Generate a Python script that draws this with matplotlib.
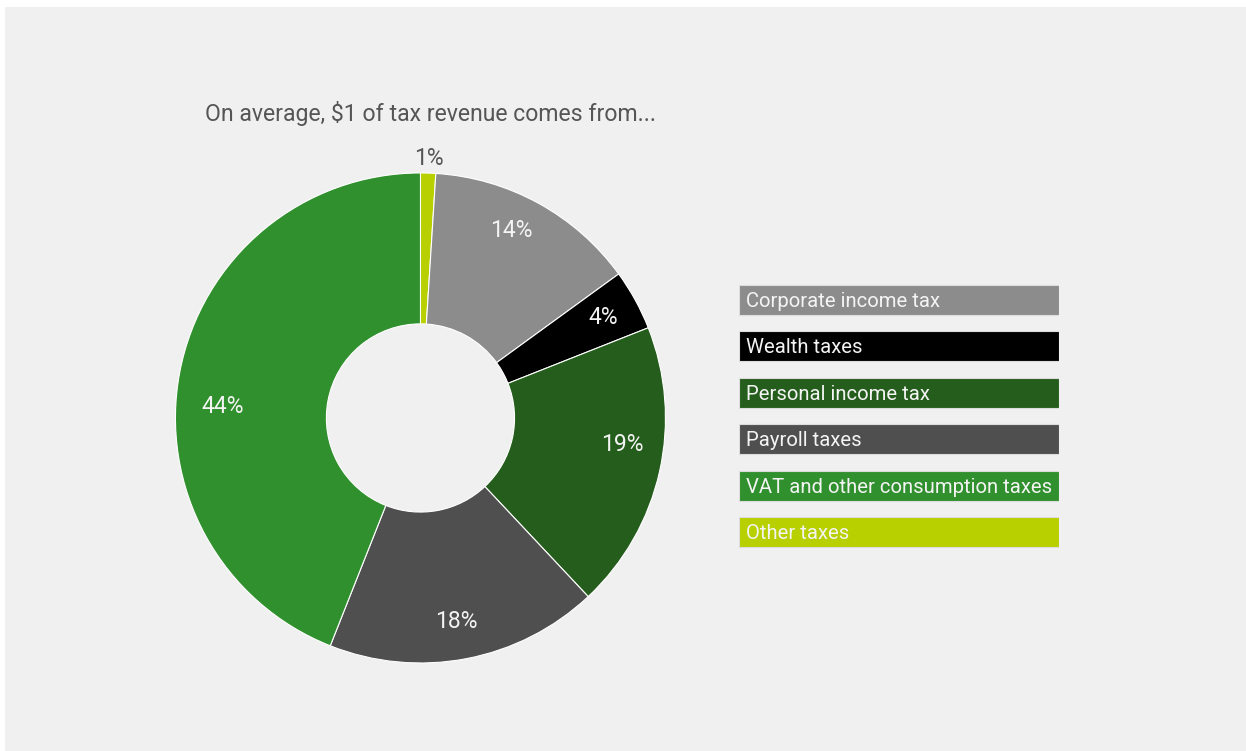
import numpy as np
import matplotlib.pyplot as plt
from matplotlib.patches import Rectangle

plt.rcParams['font.family'] = ['Roboto', 'DejaVu Sans']

# tax mix, clockwise from 12 o'clock
categories = ['Other taxes', 'Corporate income tax', 'Wealth taxes',
              'Personal income tax', 'Payroll taxes',
              'VAT and other consumption taxes']
shares = [1, 14, 4, 19, 18, 44]
colors = ['#b8cf00', '#8c8c8c', '#000000', '#255e1c', '#4f4f4f', '#31902e']

# legend order (top to bottom)
legend_order = ['Corporate income tax', 'Wealth taxes', 'Personal income tax',
                'Payroll taxes', 'VAT and other consumption taxes', 'Other taxes']

# label placement tweaks: angle nudge (deg, ccw) and radius
label_nudge = [0, 3, 0, 5, -0.8, 7.6]
label_r = [1.06, 0.85, 0.85, 0.83, 0.845, 0.81]

bg = '#f0f0f0'
fig = plt.figure(figsize=(12.46, 7.51), dpi=100, facecolor='white')
fig.patches.append(Rectangle((5 / 1246, 0), 1, 1 - 7 / 751,
                             transform=fig.transFigure, facecolor=bg,
                             edgecolor='none', zorder=-10))

ax = fig.add_axes([0.1408, 0.1172, 0.3933, 0.6525])
ax.set_facecolor('none')
wedges, texts = ax.pie(shares, colors=colors, startangle=90, counterclock=False,
                       radius=1, wedgeprops=dict(width=0.616, edgecolor='white',
                                                 linewidth=0.8))
ax.set_xlim(-1, 1)
ax.set_ylim(-1, 1)
ax.set_aspect('equal')
ax.axis('off')

# percentage labels
for w, v, dn, r in zip(wedges, shares, label_nudge, label_r):
    ang = np.deg2rad((w.theta1 + w.theta2) / 2 + dn)
    c = '#555555' if r > 1 else '#f4f4f4'
    ax.text(r * np.cos(ang), r * np.sin(ang), f'{v}%', ha='center',
            va='center', fontsize=16.5, color=c)

fig.text(205 / 1246, 1 - 114 / 751, 'On average, \\$1 of tax revenue comes from...',
         ha='left', va='center', fontsize=16.6, color='#555555')

# legend as labelled bars
lax = fig.add_axes([0.5931, 0.2607, 0.2568, 0.3707])
lax.set_facecolor('none')
col_of = dict(zip(categories, colors))
ypos = np.arange(len(legend_order))
lax.barh(ypos, [1] * len(legend_order), height=0.647, left=0,
         color=[col_of[n] for n in legend_order], edgecolor='#dcdcdc',
         linewidth=0.8)
for y, name in zip(ypos, legend_order):
    lax.text(0.022, y + 0.03, name, ha='left', va='center', fontsize=14.6,
             color='#f4f4f4')
lax.set_xlim(0, 1)
lax.set_ylim(len(legend_order) - 0.5, -0.5)
lax.axis('off')

fig.savefig('out.png', dpi=100, facecolor=fig.get_facecolor())
